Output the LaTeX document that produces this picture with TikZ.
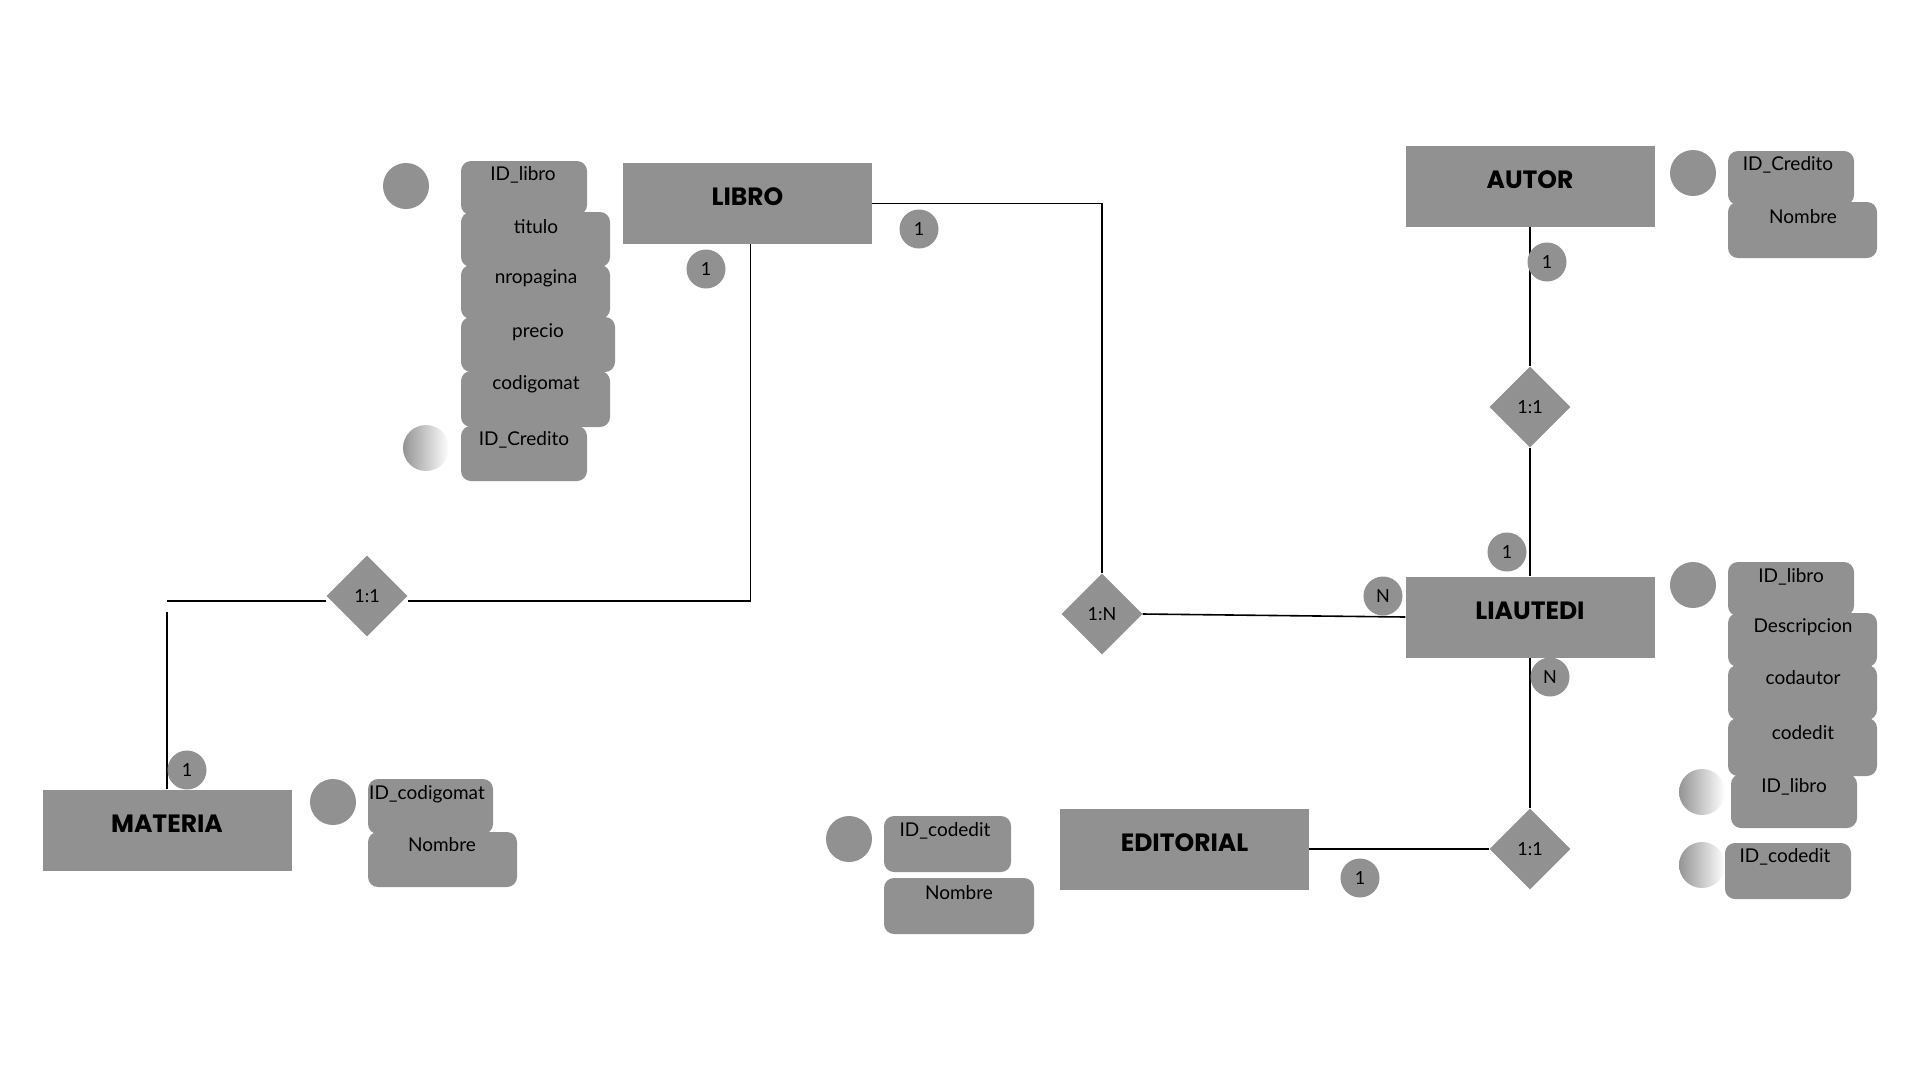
\documentclass[tikz,border=0pt]{standalone}
\usepackage{fontspec}
\setmainfont{Lato}
\newfontfamily\titlefont{Poppins}
\usetikzlibrary{shapes.geometric}
\pgfdeclarelayer{bg}
\pgfsetlayers{bg,main}
\definecolor{boxgray}{RGB}{145,145,145}
\tikzset{
  entity/.style={rectangle, fill=boxgray, minimum width=249pt, minimum height=81pt, inner sep=0pt,
    font=\titlefont\bfseries\fontsize{25}{30}\selectfont, text height=18pt, text depth=14pt},
  rel/.style={diamond, fill=boxgray, minimum width=81pt, minimum height=81pt, inner sep=0pt,
    font=\fontsize{18}{22}\selectfont},
  card/.style={circle, fill=boxgray, minimum size=39pt, inner sep=0pt, font=\fontsize{18}{22}\selectfont},
  keydot/.style={circle, fill=boxgray, minimum size=46pt, inner sep=0pt},
  fkdot/.style={circle, left color=black!42, right color=white, minimum size=46pt, inner sep=0pt},
  abox/.style={fill=boxgray, rounded corners=10pt},
  atext/.style={font=\fontsize{19}{23}\selectfont, inner sep=0pt},
  link/.style={draw=black, line width=1.6pt},
}
\newcommand{\attrib}[8]{%
  \fill[abox] (#3,#4) rectangle (#5,#6);
  \node[atext] (#1) at (#7,#8) {#2};}
\begin{document}
\begin{tikzpicture}[x=1pt,y=-1pt]
\useasboundingbox (0,0) rectangle (1920,1080);

% entities
\node[entity] (libro) at (747.5,203.5) {LIBRO};
\node[entity] (autor) at (1530,186) {AUTOR};
\node[entity] (liautedi) at (1530,617) {LIAUTEDI};
\node[entity] (materia) at (167,830) {MATERIA};
\node[entity] (editorial) at (1184.5,849) {EDITORIAL};

% relationships
\node[rel] (r11a) at (367,596) {1:1};
\node[rel] (r1n) at (1102,614) {1:N};
\node[rel] (r11b) at (1530,407) {1:1};
\node[rel] (r11c) at (1530,849) {1:1};

% free ends
\coordinate (mleft) at (167,601);
\coordinate (mtop) at (167,612);

% background and connectors
\begin{pgfonlayer}{bg}
\fill[white] (0,0) rectangle (1920,1080);
\draw[link] (libro.east) -| (r1n.north);
\draw[link] ([xshift=3pt]libro.south) |- ([yshift=-5pt]r11a.east);
\draw[link] ([yshift=-5pt]r11a.west) -- (mleft);
\draw[link] (mtop) -- (materia.north);
\draw[link] (r1n.east) -- (liautedi.west);
\draw[link] (autor.south) -- (r11b.north);
\draw[link] (r11b.south) -- (liautedi.north);
\draw[link] (liautedi.south) -- (r11c.north);
\draw[link] (editorial.east) -- (r11c.west);
\end{pgfonlayer}

% cardinalities
\node[card] (c1) at (919,229) {1};
\node[card] (c2) at (706,269) {1};
\node[card] (c3) at (1547,262) {1};
\node[card] (c4) at (1507,552) {1};
\node[card] (c5) at (1383,596) {N};
\node[card] (c6) at (1550,677) {N};
\node[card] (c7) at (1360,878) {1};
\node[card] (c8) at (187,770) {1};

% LIBRO attributes
\node[keydot] (k1) at (406,186) {};
\attrib{a1}{ID\_libro}{461}{161}{587}{215}{523}{175}
\attrib{a2}{titulo}{461}{212}{610}{267}{536}{227}
\attrib{a3}{nropagina}{461}{265}{610}{319}{536}{278}
\attrib{a4}{precio}{461}{317}{615}{372}{538}{332}
\attrib{a5}{codigomat}{461}{371}{610}{427}{536}{384}
\attrib{a6}{ID\_Credito}{461}{426}{587}{481}{524}{440}
\node[fkdot] (f1) at (426,448) {};

% AUTOR attributes
\node[keydot] (k2) at (1693,173) {};
\attrib{b1}{ID\_Credito}{1728}{151}{1854}{205}{1788}{165}
\attrib{b2}{Nombre}{1728}{202}{1877}{258}{1803}{217}

% LIAUTEDI attributes
\node[keydot] (k3) at (1693,585) {};
\attrib{d1}{ID\_libro}{1728}{562}{1854}{616}{1791}{577}
\attrib{d2}{Descripcion}{1728}{613}{1877}{667}{1803}{627}
\attrib{d3}{codautor}{1728}{665}{1877}{720}{1803}{678}
\attrib{d4}{codedit}{1728}{718}{1877}{776}{1803}{733}
\attrib{d5}{ID\_libro}{1731}{774}{1857}{828}{1794}{787}
\node[fkdot] (f2) at (1702,792) {};
\attrib{d6}{ID\_codedit}{1725}{843}{1851}{899}{1785}{857}
\node[fkdot] (f3) at (1702,865) {};

% MATERIA attributes
\node[keydot] (k4) at (333,802) {};
\attrib{m1}{ID\_codigomat}{368}{779}{493}{834}{427}{794}
\attrib{m2}{Nombre}{368}{832}{517}{887}{442}{845}

% EDITORIAL attributes
\node[keydot] (k5) at (849,839) {};
\attrib{e1}{ID\_codedit}{884}{816}{1011}{872}{945}{831}
\attrib{e2}{Nombre}{884}{878}{1034}{934}{959}{893}
\end{tikzpicture}
\end{document}
